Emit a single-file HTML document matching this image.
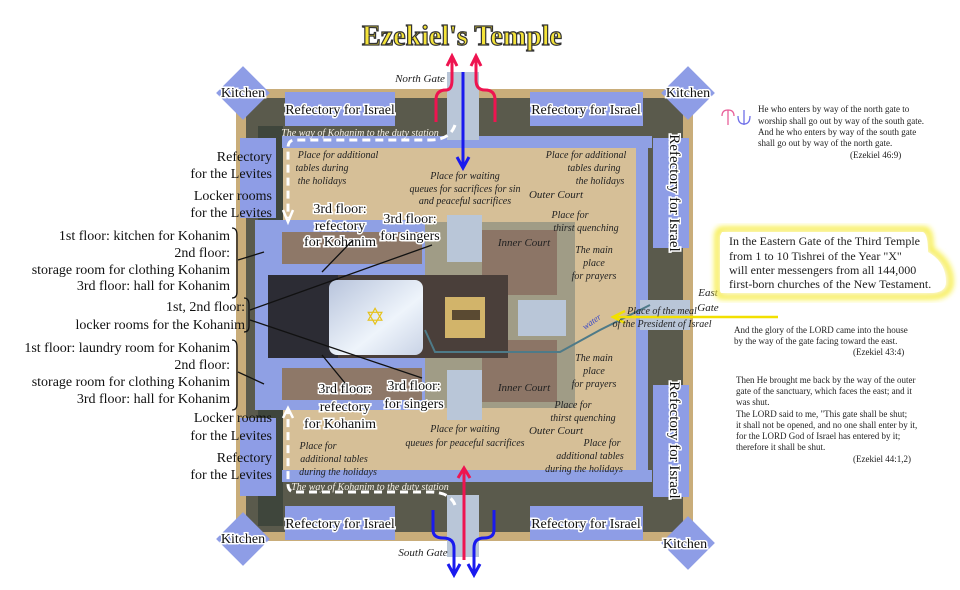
<!DOCTYPE html>
<html><head><meta charset="utf-8"><style>
html,body{margin:0;padding:0;background:#fff;}
svg{display:block;}
text{font-family:"Liberation Serif",serif;}
</style></head><body>
<svg width="960" height="590" viewBox="0 0 960 590" xmlns="http://www.w3.org/2000/svg">
<defs>
<linearGradient id="dome" x1="0" y1="0" x2="1" y2="1"><stop offset="0" stop-color="#b8c4dc"/><stop offset="0.6" stop-color="#eef4fb"/><stop offset="1" stop-color="#c9d3e6"/></linearGradient>
<filter id="glow"><feGaussianBlur stdDeviation="3"/></filter>
</defs>
<!-- site -->
<rect x="236" y="89" width="457" height="452" fill="#c9ad7a"/>
<rect x="246" y="98" width="437" height="434" fill="#5a5a4c"/>
<rect x="282" y="143" width="365" height="337" fill="#d6bf97"/>
<rect x="258" y="126" width="25" height="400" fill="#3f463c"/>
<!-- corridors -->
<rect x="282" y="136" width="370" height="12" fill="#8fa0e4"/>
<rect x="282" y="470" width="370" height="12" fill="#8fa0e4"/>
<rect x="636" y="136" width="12" height="346" fill="#8fa0e4"/>
<!-- refectories -->
<rect x="285" y="92" width="110" height="34" fill="#8e9de6"/>
<rect x="530" y="92" width="113" height="34" fill="#8e9de6"/>
<rect x="285" y="506" width="110" height="34" fill="#8e9de6"/>
<rect x="530" y="506" width="113" height="34" fill="#8e9de6"/>
<rect x="240" y="138" width="36" height="80" fill="#8e9de6"/>
<rect x="240" y="418" width="36" height="78" fill="#8e9de6"/>
<rect x="653" y="138" width="36" height="110" fill="#8e9de6"/>
<rect x="653" y="385" width="36" height="112" fill="#8e9de6"/>
<!-- kitchens -->
<rect x="224" y="74" width="38" height="38" fill="#8e9de6" transform="rotate(45 243 93)"/>
<rect x="669" y="74" width="38" height="38" fill="#8e9de6" transform="rotate(45 688 93)"/>
<rect x="224" y="520" width="38" height="38" fill="#8e9de6" transform="rotate(45 243 539)"/>
<rect x="669" y="524" width="38" height="38" fill="#8e9de6" transform="rotate(45 688 543)"/>
<!-- gates -->
<rect x="447" y="72" width="32" height="68" fill="#b9c6d8"/>
<rect x="447" y="495" width="32" height="62" fill="#b9c6d8"/>
<rect x="640" y="300" width="50" height="30" fill="#b9c6d8"/>
<!-- temple complex -->
<rect x="255" y="220" width="170" height="190" fill="#8fa0e4"/>
<rect x="425" y="222" width="150" height="186" fill="#a09c86"/>
<rect x="482" y="230" width="75" height="65" fill="#8c7566"/>
<rect x="482" y="340" width="75" height="62" fill="#8c7566"/>
<rect x="282" y="232" width="140" height="32" fill="#8e7868"/>
<rect x="282" y="368" width="140" height="32" fill="#8e7868"/>
<rect x="268" y="275" width="240" height="83" fill="#4a3f3a"/>
<rect x="268" y="275" width="70" height="83" fill="#2c2c34"/>
<rect x="329" y="280" width="94" height="75" rx="8" fill="url(#dome)"/>
<text x="375" y="325" font-size="24" fill="#e6c21a" text-anchor="middle">✡</text>
<rect x="445" y="297" width="40" height="41" fill="#d2b46a"/>
<rect x="452" y="310" width="28" height="10" fill="#5a4a32"/>
<rect x="447" y="215" width="35" height="47" fill="#b9c6d8"/>
<rect x="447" y="370" width="35" height="50" fill="#b9c6d8"/>
<rect x="518" y="300" width="48" height="36" fill="#b9c6d8"/>
<path d="M425 330 L435 352 L560 352 L600 330 L650 305" stroke="#4e7a88" stroke-width="2" fill="none"/>
<text x="585" y="330" font-size="9" fill="#3a48c8" font-style="italic" transform="rotate(-35 585 330)">water</text>
<!-- dashed Kohanim paths -->
<path d="M455 125 Q450 140 430 140 L295 140 Q288 140 288 148 L288 218" stroke="#fff" stroke-width="3" stroke-dasharray="8,5" fill="none"/>
<path d="M283 210 L288 222 L293 210" stroke="#fff" stroke-width="2.5" fill="none"/>
<path d="M455 505 Q450 492 430 492 L295 492 Q288 492 288 484 L288 410" stroke="#fff" stroke-width="3" stroke-dasharray="8,5" fill="none"/>
<path d="M283 418 L288 408 L293 418" stroke="#fff" stroke-width="2.5" fill="none"/>
<!-- gate arrows -->
<path d="M463 72 L463 165" stroke="#1a1aee" stroke-width="3"/><path d="M457 157 L463 168 L469 157" stroke="#1a1aee" stroke-width="3" fill="none"/>
<path d="M436 122 L436 100 Q436 90 446 90 Q452 90 452 80 L452 58" stroke="#ee1450" stroke-width="3" fill="none"/>
<path d="M447 66 L452 56 L457 66" stroke="#ee1450" stroke-width="3" fill="none"/>
<path d="M495 122 L495 100 Q495 90 485 90 Q476 90 476 80 L476 58" stroke="#ee1450" stroke-width="3" fill="none"/>
<path d="M471 66 L476 56 L481 66" stroke="#ee1450" stroke-width="3" fill="none"/>
<path d="M464 470 L464 560" stroke="#ee1450" stroke-width="3"/><path d="M458 478 L464 468 L470 478" stroke="#ee1450" stroke-width="3" fill="none"/>
<path d="M433 510 L433 530 Q433 538 443 538 Q454 538 454 548 L454 572" stroke="#1a1aee" stroke-width="3" fill="none"/>
<path d="M448 564 L454 575 L460 564" stroke="#1a1aee" stroke-width="3" fill="none"/>
<path d="M494 510 L494 530 Q494 538 484 538 Q474 538 474 548 L474 572" stroke="#1a1aee" stroke-width="3" fill="none"/>
<path d="M468 564 L474 575 L480 564" stroke="#1a1aee" stroke-width="3" fill="none"/>
<!-- yellow east arrow -->
<path d="M615 317 L778 317" stroke="#f2e000" stroke-width="2.5"/><path d="M625 311 L613 317 L625 323" stroke="#f2e000" stroke-width="2.5" fill="none"/>
<!-- title -->
<text x="462" y="45" font-size="28" font-weight="bold" fill="#f5e43a" stroke="#333" stroke-width="1.2" text-anchor="middle">Ezekiel's Temple</text>
<!-- labels -->
<g font-size="14" fill="#111" text-anchor="middle" stroke="#fff" stroke-width="3" paint-order="stroke">
<text x="243" y="97">Kitchen</text><text x="688" y="97">Kitchen</text>
<text x="243" y="543">Kitchen</text><text x="685" y="548">Kitchen</text>
<text x="340" y="114">Refectory for Israel</text><text x="586" y="114">Refectory for Israel</text>
<text x="340" y="528">Refectory for Israel</text><text x="586" y="528">Refectory for Israel</text>
<text x="670" y="193" transform="rotate(90 670 193)" font-size="15">Refectory for Israel</text>
<text x="670" y="440" transform="rotate(90 670 440)" font-size="15">Refectory for Israel</text>
<text x="340" y="213">3rd floor:</text><text x="340" y="230">refectory</text><text x="340" y="246">for Kohanim</text>
<text x="410" y="223">3rd floor:</text><text x="410" y="240">for singers</text>
<text x="345" y="393">3rd floor:</text><text x="345" y="411">refectory</text><text x="340" y="428">for Kohanim</text>
<text x="414" y="390">3rd floor:</text><text x="414" y="408">for singers</text>
</g>
<g font-size="14" fill="#111" text-anchor="end">
<text x="272" y="161">Refectory</text><text x="272" y="178">for the Levites</text>
<text x="272" y="200">Locker rooms</text><text x="272" y="217">for the Levites</text>
<text x="230" y="240">1st floor: kitchen for Kohanim</text><text x="230" y="257">2nd floor:</text>
<text x="230" y="274">storage room for clothing Kohanim</text><text x="230" y="290">3rd floor: hall for Kohanim</text>
<text x="245" y="311">1st, 2nd floor:</text><text x="245" y="329">locker rooms for the Kohanim</text>
<text x="230" y="352">1st floor: laundry room for Kohanim</text><text x="230" y="369">2nd floor:</text>
<text x="230" y="386">storage room for clothing Kohanim</text><text x="230" y="403">3rd floor: hall for Kohanim</text>
<text x="272" y="422">Locker rooms</text><text x="272" y="440">for the Levites</text>
<text x="272" y="462">Refectory</text><text x="272" y="479">for the Levites</text>
</g>
<g stroke="#111" stroke-width="1.3" fill="none">
<path d="M232 228 Q237 228 237 235 L237 292 Q237 298 232 298"/>
<path d="M232 340 Q237 340 237 347 L237 404 Q237 410 232 410"/>
<path d="M244 298 Q249 298 249 305 L249 326 Q249 332 244 332"/>
<path d="M238 260 L264 252"/><path d="M238 372 L264 384"/>
<path d="M250 310 L432 245"/><path d="M250 320 L422 378"/>
<path d="M322 272 L353 240"/><path d="M322 355 L345 383"/>
</g>
<g font-size="10" font-style="italic" fill="#222" text-anchor="middle">
<text x="420" y="82" font-size="11">North Gate</text><text x="423" y="556" font-size="11">South Gate</text>
<text x="708" y="296" font-size="11">East</text><text x="708" y="311" font-size="11">Gate</text>
<text x="338" y="158">Place for additional</text><text x="322" y="171">tables during</text><text x="322" y="184">the holidays</text>
<text x="586" y="158">Place for additional</text><text x="594" y="171">tables during</text><text x="600" y="184">the holidays</text>
<text x="465" y="179">Place for waiting</text><text x="465" y="192">queues for sacrifices for sin</text><text x="465" y="204">and peaceful sacrifices</text>
<text x="556" y="198" font-size="11">Outer Court</text><text x="556" y="434" font-size="11">Outer Court</text>
<text x="570" y="218">Place for</text><text x="586" y="231">thirst quenching</text>
<text x="524" y="246" font-size="11">Inner Court</text><text x="524" y="391" font-size="11">Inner Court</text>
<text x="594" y="253">The main</text><text x="594" y="266">place</text><text x="594" y="279">for prayers</text>
<text x="594" y="361">The main</text><text x="594" y="374">place</text><text x="594" y="387">for prayers</text>
<text x="573" y="408">Place for</text><text x="583" y="421">thirst quenching</text>
<text x="465" y="432">Place for waiting</text><text x="465" y="446">queues for peaceful sacrifices</text>
<text x="318" y="449">Place for</text>
<text x="334" y="462">additional tables</text><text x="338" y="475">during the holidays</text>
<text x="602" y="446">Place for</text><text x="590" y="459">additional tables</text><text x="584" y="472">during the holidays</text>
<text x="662" y="314">Place of the meal</text><text x="662" y="327">of the President of Israel</text>
</g>
<g font-size="10" font-style="italic" fill="#f4f0e6" text-anchor="middle">
<text x="360" y="136">The way of Kohanim to the duty station</text>
<text x="370" y="490">The way of Kohanim to the duty station</text>
</g>
<!-- right side text -->
<g stroke-width="1.3" fill="none">
<path d="M728 125 L728 110 M722 116 Q722 110 728 110 Q734 110 734 116" stroke="#e8609a"/>
<path d="M744 125 L744 110 M738 116 Q738 124 744 124 Q750 124 750 116" stroke="#7070e8"/>
</g>
<g font-size="9" fill="#222">
<text x="758" y="112">He who enters by way of the north gate to</text>
<text x="758" y="124">worship shall go out by way of the south gate.</text>
<text x="758" y="135">And he who enters by way of the south gate</text>
<text x="758" y="146">shall go out by way of the north gate.</text>
<text x="850" y="158">(Ezekiel 46:9)</text>
<text x="734" y="333">And the glory of the LORD came into the house</text>
<text x="734" y="344">by the way of the gate facing toward the east.</text>
<text x="853" y="355">(Ezekiel 43:4)</text>
<text x="736" y="383">Then He brought me back by the way of the outer</text>
<text x="736" y="394">gate of the sanctuary, which faces the east; and it</text>
<text x="736" y="405">was shut.</text>
<text x="736" y="417">The LORD said to me, "This gate shall be shut;</text>
<text x="736" y="428">it shall not be opened, and no one shall enter by it,</text>
<text x="736" y="439">for the LORD God of Israel has entered by it;</text>
<text x="736" y="450">therefore it shall be shut.</text>
<text x="853" y="462">(Ezekiel 44:1,2)</text>
</g>
<path d="M722 230 L925 230 Q930 230 930 250 Q950 262 950 282 Q950 296 930 296 L722 296 Q718 296 718 290 L718 236 Q718 230 722 230 Z" fill="#fff" stroke="#f6ec1e" stroke-width="6" filter="url(#glow)"/>
<path d="M722 232 L923 232 Q928 234 928 252 Q946 262 946 282 Q946 293 930 293 L722 293 Q720 293 720 290 L720 236 Z" fill="#fff"/>
<g font-size="12" fill="#222">
<text x="729" y="245">In the Eastern Gate of the Third Temple</text>
<text x="729" y="260">from 1 to 10 Tishrei of the Year "X"</text>
<text x="729" y="274">will enter messengers from all 144,000</text>
<text x="729" y="288">first-born churches of the New Testament.</text>
</g>
</svg>
</body></html>
